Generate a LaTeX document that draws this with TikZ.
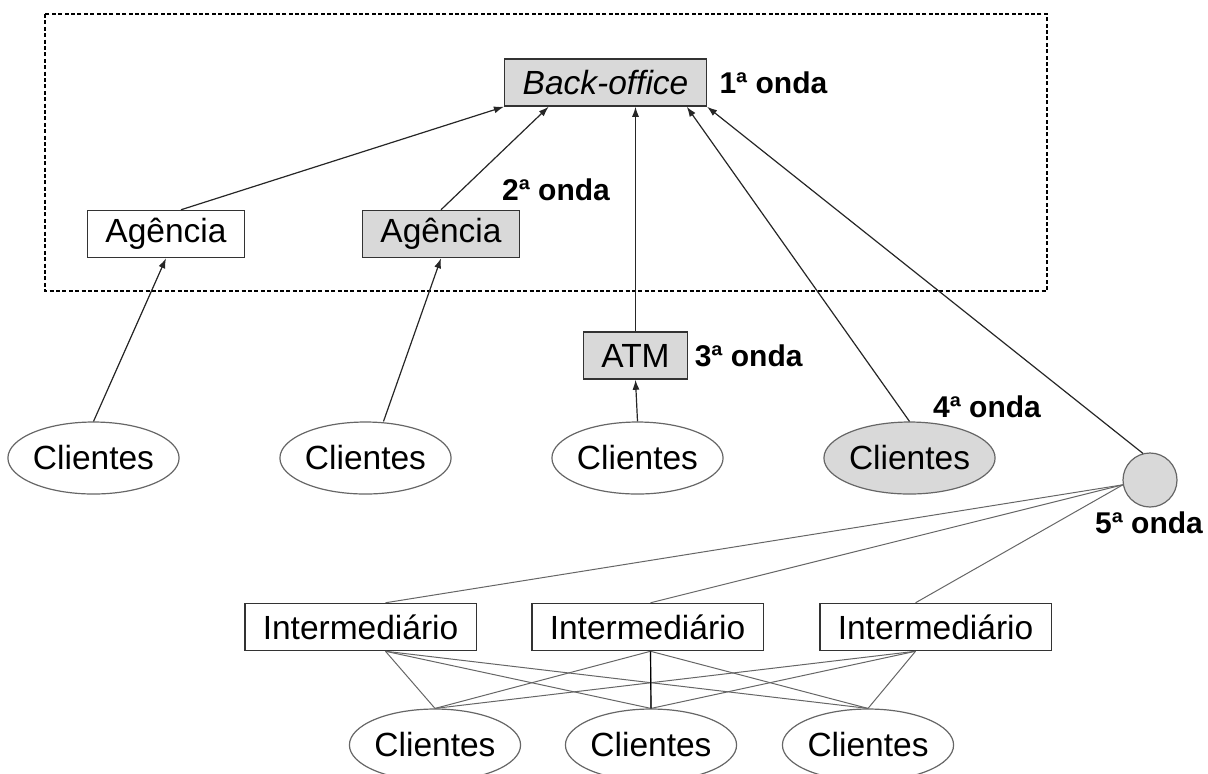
\documentclass[tikz,border=0pt]{standalone}
\usepackage{fontspec}
\setmainfont{Liberation Sans}
\usetikzlibrary{shapes.geometric,arrows.meta,positioning,calc}

\begin{document}
\begin{tikzpicture}[
        x=0.5pt, y=-0.5pt,
        font=\fontsize{16.75}{20}\selectfont,
        % estilos
        caixa/.style={draw=black!80, line width=0.75pt, inner xsep=9pt, inner ysep=0pt, minimum height=23.5pt},
        sombra/.style={fill=gray!30},
        cliente/.style={ellipse, draw=black!60, line width=0.6pt, minimum width=83.5pt, minimum height=36pt, inner sep=0pt},
        onda/.style={font=\fontsize{15}{18}\selectfont\bfseries, inner sep=0pt},
        seta/.style={-{Latex[length=5pt,width=3.5pt]}, line width=0.6pt, black!85},
        liga/.style={line width=0.5pt, black!60},
    ]
    \useasboundingbox (0,0) rectangle (1208,773);

    % banco (linha tracejada)
    \draw[dash pattern=on 2pt off 1.2pt, line width=0.6pt] (45,14) rectangle (1047,291);

    % caixas
    \node[caixa, sombra] (bo) at (605.5,82.5) {\itshape Back-office};
    \node[onda, right=6pt of bo] (o1) {1ª onda};
    \node[caixa] (ag1) at (166,234) {Agência};
    \node[caixa, sombra] (ag2) at (441,234) {Agência};
    \node[onda] (o2) at (556,190) {2ª onda};
    \node[caixa, sombra] (atm) at (635.5,355.5) {ATM};
    \node[onda, right=3pt of atm] (o3) {3ª onda};

    % clientes
    \node[cliente] (c1) at (93.5,458) {Clientes};
    \node[cliente] (c2) at (365.5,458) {Clientes};
    \node[cliente] (c3) at (637.5,458) {Clientes};
    \node[cliente, sombra] (c4) at (909.5,458) {Clientes};
    \node[onda] (o4) at (987,407) {4ª onda};
    \node[circle, draw=black!60, sombra, line width=0.6pt, minimum size=27pt, inner sep=0pt] (rede) at (1150,480) {};
    \node[onda] (o5) at (1149,523) {5ª onda};

    % intermediarios
    \foreach \n/\x in {1/360.5, 2/647.5, 3/935.5}
        \node[caixa] (i\n) at (\x,627) {Intermediário};
    \foreach \n/\x in {1/435, 2/651, 3/868}
        \node[cliente] (e\n) at (\x,745) {Clientes};

    \coordinate (i1t) at ($(i1.north)+(25,0)$);
    \coordinate (i1b) at ($(i1.south)+(25,0)$);
    \coordinate (i2t) at ($(i2.north)+(3,0)$);
    \coordinate (i2b) at ($(i2.south)+(3,0)$);
    \coordinate (i3t) at ($(i3.north)+(-20,0)$);
    \coordinate (i3b) at ($(i3.south)+(-20,0)$);

    % setas para o back-office
    \draw[seta] ($(ag1.north)+(15,0)$) -- (bo.south west);
    \draw[seta] (ag2.north) -- ($(bo.south west)!.22!(bo.south east)$);
    \draw[seta] (atm.north) -- (atm.north |- bo.south);
    \draw[seta] (c4.north) -- ($(bo.south west)!.9!(bo.south east)$);
    \draw[seta] (rede.105) -- (bo.south east);

    % setas dos clientes
    \draw[seta] (c1.north) -- (ag1.south);
    \draw[seta] ($(c2.north)+(18,0)$) -- (ag2.south);
    \draw[seta] (c3.north) -- (atm.south);

    % ligacoes da 5a onda
    \foreach \n in {1,2,3}
        \draw[liga] (rede.190) -- (i\n t);
    \foreach \a in {1,2,3}
        \foreach \b in {1,2,3}
            \draw[liga] (i\a b) -- (e\b.north);
    \draw[line width=0.6pt] (i2b) -- (e2.north);
\end{tikzpicture}
\end{document}
